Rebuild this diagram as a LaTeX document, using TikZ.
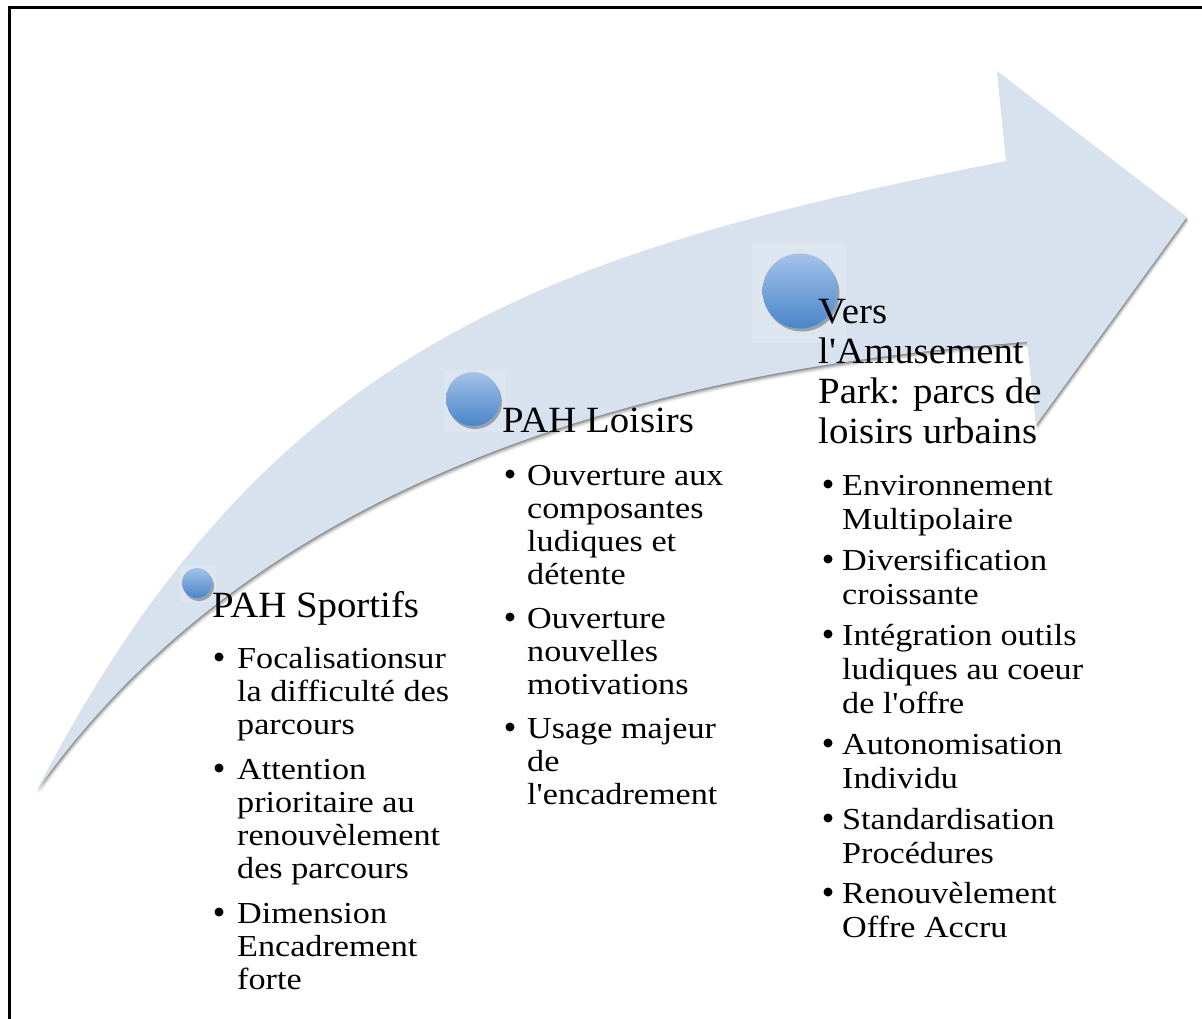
\documentclass[tikz,border=0pt]{standalone}
\usepackage{fontspec}
\defaultfontfeatures{}
\newfontfamily\bodyfont{Liberation Serif}[FakeStretch=1.12]
\newfontfamily\titlefont{Liberation Serif}[FakeStretch=1.05]
\usetikzlibrary{shadows}
\definecolor{arrowfill}{RGB}{216,226,239}
\definecolor{balltop}{RGB}{163,194,234}
\definecolor{ballbot}{RGB}{74,133,200}
\newcommand{\arrowshape}{(37,790) .. controls (270,339) and (556,251) .. (1006,161) -- (997,71) -- (1187,217) -- (1036,425) -- (1027,342) .. controls (500,380) and (200,560) .. (37,790) -- cycle}
\tikzset{
  body/.style={font=\bodyfont\fontsize{30.5}{33}\selectfont, anchor=base west, inner sep=0pt},
  bul/.style={circle, fill=black, inner sep=0pt, minimum size=9pt},
  ttl/.style={font=\titlefont\fontsize{37}{40}\selectfont, anchor=base west, inner sep=0pt},
  ball/.style={circle, inner sep=0pt, top color=balltop, bottom color=ballbot, draw=none,
    drop shadow={shadow xshift=2pt, shadow yshift=-3pt, opacity=0.45, fill=black!70}},
  glow/.style={fill=white, opacity=0.12}
}
\begin{document}
\begin{tikzpicture}[x=1pt,y=-1pt]
\useasboundingbox (0,0) rectangle (1202,1019);
\fill[white] (0,0) rectangle (1202,1019);
% frame
\draw[line width=2.6pt, line join=miter] (9.6,1019) -- (9.6,7.3) -- (1202,7.3);
% arrow shadow
\foreach \s/\o in {5/0.05,4/0.07,3/0.10,2/0.14,1/0.18}{
  \fill[black, opacity=\o, shift={(0.4*\s,\s)}] \arrowshape;
}
\fill[arrowfill] \arrowshape;
% faint squares behind balls
\fill[glow] (180,566) rectangle (216,602);
\fill[glow] (444,370) rectangle (506,432);
\fill[glow] (752,243) rectangle (846,343);
% balls
\node[ball, minimum size=30pt] (b1) at (197,583) {};
\node[ball, minimum size=54pt] (b2) at (473,399) {};
\node[ball, minimum size=75pt] (b3) at (800,291) {};
% column 1
\node[ttl] (t1) at (212,617) {PAH Sportifs};
\node[bul] (k11) at (219,657) {};
\node[bul] (k12) at (219,768) {};
\node[bul] (k13) at (219,912) {};
\node[body] (a1) at (237,668) {Focalisationsur};
\node[body] (a2) at (237,701) {la difficulté des};
\node[body] (a3) at (237,734) {parcours};
\node[body] (a4) at (237,779) {Attention};
\node[body] (a5) at (237,812) {prioritaire au};
\node[body] (a6) at (237,845) {renouvèlement};
\node[body] (a7) at (237,878) {des parcours};
\node[body] (a8) at (237,923) {Dimension};
\node[body] (a9) at (237,956) {Encadrement};
\node[body] (a10) at (237,989) {forte};
% column 2
\node[ttl] (t2) at (502,432) {PAH Loisirs};
\node[bul] (k21) at (510,474) {};
\node[bul] (k22) at (510,617) {};
\node[bul] (k23) at (510,727) {};
\node[body] (m1) at (527,485) {Ouverture aux};
\node[body] (m2) at (527,518) {composantes};
\node[body] (m3) at (527,551) {ludiques et};
\node[body] (m4) at (527,584) {détente};
\node[body] (m5) at (527,628) {Ouverture};
\node[body] (m6) at (527,661) {nouvelles};
\node[body] (m7) at (527,694) {motivations};
\node[body] (m8) at (527,738) {Usage majeur};
\node[body] (m9) at (527,771) {de};
\node[body] (m10) at (527,804) {l'encadrement};
% column 3
\node[ttl] (t31) at (818,323) {Vers};
\node[ttl] (t32) at (818,363) {l'Amusement};
\node[ttl] (t33) at (818,403) {Park: parcs de};
\node[ttl] (t34) at (818,443) {loisirs urbains};
\node[bul] (k31) at (828,484) {};
\node[bul] (k32) at (828,559) {};
\node[bul] (k33) at (828,634) {};
\node[bul] (k34) at (828,743) {};
\node[bul] (k35) at (828,818) {};
\node[bul] (k36) at (828,892) {};
\node[body] (r1) at (842,495) {Environnement};
\node[body] (r2) at (842,529) {Multipolaire};
\node[body] (r3) at (842,570) {Diversification};
\node[body] (r4) at (842,604) {croissante};
\node[body] (r5) at (842,645) {Intégration outils};
\node[body] (r6) at (842,679) {ludiques au coeur};
\node[body] (r7) at (842,713) {de l'offre};
\node[body] (r8) at (842,754) {Autonomisation};
\node[body] (r9) at (842,788) {Individu};
\node[body] (r10) at (842,829) {Standardisation};
\node[body] (r11) at (842,863) {Procédures};
\node[body] (r12) at (842,903) {Renouvèlement};
\node[body] (r13) at (842,937) {Offre Accru};
\end{tikzpicture}
\end{document}
